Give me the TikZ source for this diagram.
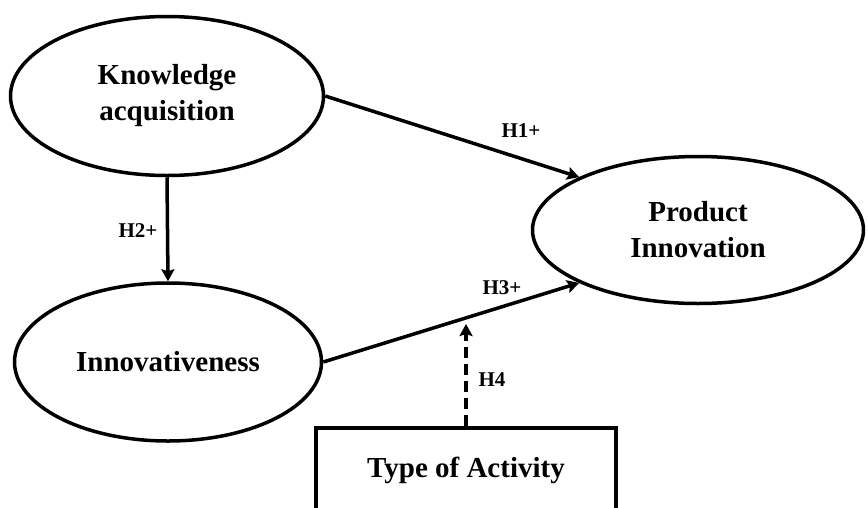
\documentclass[tikz,border=0pt]{standalone}
\usepackage{fontspec}
\setmainfont{Liberation Serif}
\usetikzlibrary{shapes,arrows.meta,positioning}
\tikzset{
  every node/.style={
    font=\bfseries\fontsize{29}{36}\selectfont
  },
  construct/.style={
    shape=ellipse,
    draw=black,
    line width=3.5pt,
    align=center,
    inner sep=0pt
  },
  moderator/.style={
    shape=rectangle,
    draw=black,
    line width=4pt,
    minimum width=300pt,
    minimum height=84pt
  },
  hyp/.style={
    font=\bfseries\fontsize{21}{24}\selectfont
  },
  effect/.style={
    line width=3.5pt,
    -{Stealth[length=12pt,width=13pt,inset=2pt]}
  }
}

\begin{document}
\begin{tikzpicture}[x=1pt,y=-1pt]

\clip (0,0) rectangle (868,507);

\node [construct,minimum width=313pt,minimum height=159pt] (know) at (167,96) {Knowledge\\acquisition};
\node [construct,minimum width=307pt,minimum height=158pt] (innov) at (168,362) {Innovativeness};
\node [construct,minimum width=331pt,minimum height=147pt] (prod) at (698,230) {Product\\Innovation};
\node [moderator] (act) at (466,470) {Type of Activity};

\coordinate (modtip) at (466,324);

\draw [effect] (know.east) -- (prod.156);
\draw [effect] (know.south) -- (innov.north);
\draw [effect] (innov.east) -- (prod.204);
\draw [effect,dash pattern=on 11pt off 6pt] (act.north) -- (modtip);

\node [hyp] (hone) at (521,131) {H1+};
\node [hyp] (htwo) at (138,231) {H2+};
\node [hyp] (hthree) at (502,288) {H3+};
\node [hyp] (hfour) at (492,380) {H4};

\end{tikzpicture}
\end{document}
